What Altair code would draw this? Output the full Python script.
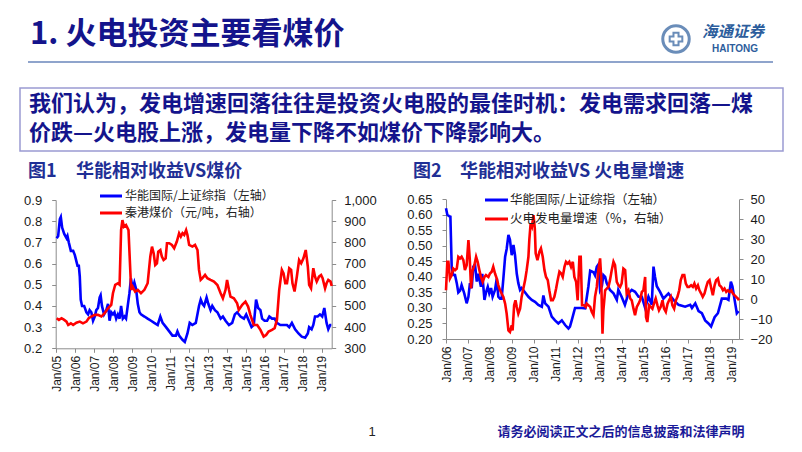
import altair as alt
import pandas as pd

# ---------------- data (decimal year, value) ----------------
c1_blue = [(2005.01,0.72),(2005.09,0.73),(2005.18,0.81),(2005.23,0.82),(2005.30,0.77),(2005.41,0.74),
    (2005.53,0.72),(2005.58,0.73),(2005.65,0.70),(2005.76,0.66),(2005.88,0.66),(2005.97,0.64),
    (2006.11,0.59),(2006.18,0.59),(2006.23,0.54),(2006.28,0.43),(2006.35,0.40),(2006.46,0.40),
    (2006.58,0.37),(2006.67,0.36),(2006.75,0.38),(2006.84,0.37),(2006.93,0.33),(2007.02,0.35),
    (2007.10,0.38),(2007.19,0.39),(2007.28,0.44),(2007.33,0.45),(2007.40,0.40),(2007.51,0.36),
    (2007.63,0.38),(2007.72,0.41),(2007.80,0.33),(2007.89,0.37),(2007.98,0.36),(2008.06,0.37),
    (2008.15,0.34),(2008.24,0.36),(2008.33,0.34),(2008.41,0.40),(2008.50,0.34),(2008.59,0.35),
    (2008.67,0.34),(2008.76,0.40),(2008.85,0.46),(2008.93,0.53),(2009.02,0.48),(2009.11,0.51),
    (2009.20,0.48),(2009.29,0.41),(2009.38,0.37),(2009.46,0.36),(2009.64,0.35),(2009.81,0.34),
    (2009.99,0.33),(2010.16,0.32),(2010.34,0.31),(2010.48,0.35),(2010.60,0.32),(2010.78,0.30),
    (2010.95,0.28),(2011.12,0.26),(2011.30,0.26),(2011.38,0.28),(2011.47,0.26),(2011.65,0.24),
    (2011.77,0.23),(2011.91,0.27),(2012.03,0.32),(2012.17,0.31),(2012.35,0.32),(2012.52,0.40),
    (2012.61,0.43),(2012.70,0.41),(2012.79,0.40),(2012.92,0.44),(2013.01,0.41),(2013.13,0.38),
    (2013.22,0.40),(2013.36,0.38),(2013.49,0.37),(2013.66,0.34),(2013.78,0.35),(2013.92,0.33),
    (2014.10,0.31),(2014.27,0.32),(2014.41,0.36),(2014.53,0.37),(2014.71,0.35),(2014.89,0.34),
    (2015.01,0.36),(2015.15,0.33),(2015.29,0.30),(2015.41,0.31),(2015.53,0.43),(2015.64,0.39),
    (2015.76,0.38),(2015.85,0.34),(2015.98,0.33),(2016.11,0.33),(2016.23,0.35),(2016.37,0.34),
    (2016.51,0.34),(2016.63,0.32),(2016.81,0.31),(2016.98,0.31),(2017.16,0.31),(2017.28,0.30),
    (2017.42,0.32),(2017.59,0.29),(2017.77,0.27),(2017.94,0.255),(2018.12,0.25),(2018.26,0.27),
    (2018.33,0.30),(2018.46,0.29),(2018.55,0.31),(2018.64,0.35),(2018.78,0.35),(2018.90,0.36),
    (2019.02,0.35),(2019.13,0.39),(2019.25,0.32),(2019.34,0.29),(2019.44,0.31),(2019.50,0.31)]

c1_red = [(2005.01,442),(2005.13,434),(2005.27,442),(2005.41,434),(2005.53,426),(2005.62,410),
    (2005.76,418),(2005.88,410),(2006.05,421),(2006.23,426),(2006.40,418),(2006.58,426),
    (2006.70,442),(2006.84,450),(2007.02,458),(2007.19,458),(2007.37,450),(2007.54,466),
    (2007.72,489),(2007.89,505),(2007.98,560),(2008.10,600),(2008.24,607),(2008.33,600),
    (2008.41,858),(2008.48,905),(2008.56,874),(2008.67,882),(2008.80,858),(2008.87,717),
    (2008.94,576),(2009.02,591),(2009.15,568),(2009.29,576),(2009.46,560),(2009.64,576),
    (2009.81,607),(2009.95,733),(2010.04,780),(2010.13,748),(2010.21,693),(2010.30,701),
    (2010.37,756),(2010.48,764),(2010.56,733),(2010.65,717),(2010.76,725),(2010.83,796),
    (2010.95,796),(2011.09,788),(2011.21,772),(2011.35,804),(2011.47,843),(2011.56,827),
    (2011.65,843),(2011.74,835),(2011.84,858),(2011.91,835),(2012.00,788),(2012.17,780),
    (2012.31,788),(2012.44,764),(2012.52,670),(2012.61,623),(2012.70,631),(2012.84,646),
    (2012.96,631),(2013.13,623),(2013.31,615),(2013.49,599),(2013.66,560),(2013.78,536),
    (2013.92,576),(2014.00,623),(2014.10,576),(2014.18,544),(2014.36,536),(2014.53,513),
    (2014.62,481),(2014.80,505),(2014.97,520),(2015.11,497),(2015.23,458),(2015.41,410),
    (2015.59,410),(2015.76,387),(2015.93,355),(2016.06,363),(2016.19,379),(2016.37,387),
    (2016.51,395),(2016.63,434),(2016.75,575),(2016.89,670),(2016.98,654),(2017.07,607),
    (2017.16,607),(2017.28,678),(2017.38,670),(2017.45,607),(2017.56,568),(2017.68,638),
    (2017.80,717),(2017.91,701),(2018.03,725),(2018.15,764),(2018.26,686),(2018.33,599),
    (2018.43,583),(2018.55,678),(2018.64,638),(2018.73,615),(2018.85,638),(2018.96,646),
    (2019.04,631),(2019.17,583),(2019.25,607),(2019.34,623),(2019.46,615),(2019.52,594)]

c2_blue = [(2006.00,0.621),(2006.06,0.60),(2006.14,0.596),(2006.20,0.594),(2006.26,0.43),
    (2006.33,0.406),(2006.41,0.406),(2006.49,0.38),(2006.56,0.35),(2006.64,0.356),(2006.71,0.374),
    (2006.83,0.347),(2006.94,0.315),(2007.02,0.336),(2007.09,0.38),(2007.17,0.364),(2007.24,0.433),
    (2007.32,0.44),(2007.40,0.385),(2007.47,0.41),(2007.59,0.368),(2007.65,0.41),(2007.75,0.326),
    (2007.82,0.35),(2007.90,0.368),(2007.97,0.347),(2008.05,0.364),(2008.12,0.336),(2008.23,0.358),
    (2008.31,0.395),(2008.38,0.336),(2008.46,0.33),(2008.53,0.33),(2008.61,0.395),(2008.69,0.465),
    (2008.76,0.49),(2008.84,0.535),(2008.91,0.52),(2008.99,0.47),(2009.07,0.503),(2009.14,0.47),
    (2009.22,0.41),(2009.29,0.38),(2009.37,0.358),(2009.44,0.364),(2009.60,0.35),(2009.75,0.336),
    (2009.90,0.326),(2010.05,0.32),(2010.20,0.31),(2010.36,0.304),(2010.43,0.34),(2010.51,0.315),
    (2010.66,0.304),(2010.81,0.272),(2010.96,0.26),(2011.11,0.25),(2011.27,0.26),(2011.42,0.245),
    (2011.57,0.234),(2011.64,0.24),(2011.72,0.26),(2011.87,0.30),(2012.02,0.30),(2012.18,0.30),
    (2012.33,0.299),(2012.48,0.37),(2012.56,0.42),(2012.71,0.415),(2012.78,0.405),(2012.86,0.433),
    (2012.93,0.44),(2013.01,0.358),(2013.09,0.37),(2013.16,0.406),(2013.24,0.40),(2013.31,0.38),
    (2013.46,0.358),(2013.62,0.347),(2013.77,0.326),(2013.84,0.358),(2013.99,0.336),(2014.14,0.31),
    (2014.30,0.347),(2014.45,0.358),(2014.60,0.352),(2014.76,0.336),(2014.91,0.336),(2015.06,0.30),
    (2015.21,0.336),(2015.36,0.31),(2015.44,0.433),(2015.51,0.40),(2015.59,0.37),(2015.74,0.352),
    (2015.89,0.33),(2016.12,0.347),(2016.35,0.326),(2016.58,0.31),(2016.88,0.304),(2017.11,0.31),
    (2017.19,0.30),(2017.34,0.315),(2017.49,0.29),(2017.64,0.283),(2017.79,0.26),(2017.94,0.25),
    (2018.06,0.24),(2018.22,0.27),(2018.37,0.283),(2018.55,0.33),(2018.75,0.33),(2018.85,0.326),
    (2018.96,0.385),(2019.03,0.37),(2019.13,0.326),(2019.23,0.283),(2019.31,0.29)]

c2_red = [(2006.00,4.4),(2006.06,18.7),(2006.11,18.7),(2006.18,10.3),(2006.26,12.0),(2006.33,15.3),
    (2006.41,14.5),(2006.49,15.3),(2006.56,21.2),(2006.64,20.4),(2006.71,21.2),(2006.79,19.5),
    (2006.86,14.5),(2006.94,17.0),(2007.02,29.6),(2007.08,20.4),(2007.14,5.3),(2007.20,13.7),
    (2007.29,17.0),(2007.37,21.2),(2007.44,18.7),(2007.52,14.5),(2007.59,11.1),(2007.67,8.6),
    (2007.75,11.1),(2007.82,12.0),(2007.93,11.1),(2008.00,12.8),(2008.08,13.7),(2008.15,16.2),
    (2008.23,12.8),(2008.31,10.3),(2008.38,7.0),(2008.46,4.4),(2008.53,2.8),(2008.61,1.1),
    (2008.69,-2.3),(2008.76,-7.3),(2008.84,-15.7),(2008.91,-16.5),(2008.99,-13.2),(2009.03,-15.7),
    (2009.10,-3.1),(2009.16,-0.6),(2009.22,-3.9),(2009.29,-7.3),(2009.37,-4.8),(2009.44,1.1),
    (2009.52,5.3),(2009.60,9.5),(2009.67,14.5),(2009.75,21.2),(2009.79,29.6),(2009.85,37.9),
    (2009.91,36.3),(2009.98,42.1),(2010.04,35.4),(2010.08,22.9),(2010.16,19.5),(2010.25,23.7),
    (2010.32,25.4),(2010.40,21.2),(2010.48,14.5),(2010.55,11.1),(2010.63,9.5),(2010.70,4.4),
    (2010.78,-0.6),(2010.86,-0.6),(2010.93,1.1),(2011.01,5.3),(2011.08,9.5),(2011.16,13.7),
    (2011.24,12.8),(2011.31,11.1),(2011.39,16.2),(2011.46,18.7),(2011.54,17.8),(2011.61,18.7),
    (2011.69,16.2),(2011.77,18.7),(2011.84,11.1),(2011.92,8.6),(2011.99,-0.6),(2012.07,21.2),
    (2012.13,21.2),(2012.19,-3.1),(2012.27,-3.1),(2012.36,-3.9),(2012.40,-2.3),(2012.56,-3.9),
    (2012.63,-6.4),(2012.71,-8.1),(2012.78,1.1),(2012.86,6.1),(2012.93,14.5),(2013.01,20.4),
    (2013.06,11.0),(2013.12,-17.3),(2013.16,-5.6),(2013.24,4.4),(2013.39,6.1),(2013.46,9.5),
    (2013.54,14.5),(2013.62,18.7),(2013.69,17.0),(2013.77,8.6),(2013.84,7.0),(2013.92,6.1),
    (2013.99,7.8),(2014.07,15.3),(2014.15,14.5),(2014.22,2.8),(2014.30,4.4),(2014.38,0.3),
    (2014.45,-0.6),(2014.53,-4.8),(2014.60,-8.1),(2014.68,-3.9),(2014.76,-2.3),(2014.83,-0.6),
    (2014.91,3.6),(2014.98,4.4),(2015.06,11.1),(2015.10,-9.0),(2015.16,-11.5),(2015.24,-3.1),
    (2015.31,-3.9),(2015.39,-4.8),(2015.46,-2.3),(2015.54,0.3),(2015.62,-3.1),(2015.69,-5.6),
    (2015.77,-3.9),(2015.85,-0.6),(2015.92,-4.8),(2016.00,-6.4),(2016.08,-2.3),(2016.15,-0.6),
    (2016.23,1.1),(2016.30,-3.1),(2016.38,-4.8),(2016.46,-0.6),(2016.53,1.1),(2016.61,4.4),
    (2016.68,9.5),(2016.76,12.0),(2016.84,12.0),(2016.91,7.8),(2016.99,6.1),(2017.06,6.1),
    (2017.15,6.9),(2017.23,6.1),(2017.30,7.8),(2017.38,5.3),(2017.46,6.9),(2017.53,4.4),
    (2017.61,2.8),(2017.68,1.1),(2017.76,2.8),(2017.84,6.1),(2017.91,8.6),(2017.99,9.5),
    (2018.07,5.3),(2018.14,1.9),(2018.22,6.9),(2018.29,9.5),(2018.37,10.3),(2018.44,6.9),
    (2018.52,6.1),(2018.60,4.4),(2018.67,5.3),(2018.75,3.6),(2018.83,4.4),(2018.90,3.6),
    (2018.98,4.4),(2019.05,2.8),(2019.13,1.9),(2019.20,1.1),(2019.28,0.3),(2019.33,-0.6)]

years1 = list(range(2005, 2020))
years2 = list(range(2006, 2020))
c1_left_ticks = [0.2, 0.3, 0.4, 0.5, 0.6, 0.7, 0.8, 0.9]
c1_right_ticks = [300, 400, 500, 600, 700, 800, 900, 1000]
c2_left_ticks = [0.20, 0.25, 0.30, 0.35, 0.40, 0.45, 0.50, 0.55, 0.60, 0.65]
c2_right_ticks = [-20, -10, 0, 10, 20, 30, 40, 50]

title_text = "1. 火电投资主要看煤价"
box_line1 = "我们认为，发电增速回落往往是投资火电股的最佳时机：发电需求回落—煤"
box_line2 = "价跌—火电股上涨，发电量下降不如煤价下降影响大。"
c1_title = ("图1", "华能相对收益VS煤价")
c2_title = ("图2", "华能相对收益VS 火电量增速")
c1_legend = ["华能国际/上证综指（左轴）", "秦港煤价（元/吨，右轴）"]
c2_legend = ["华能国际/上证综指（左轴）", "火电发电量增速（%，右轴）"]
footer_text = "请务必阅读正文之后的信息披露和法律声明"

# ---------------- styles ----------------
CJK = "Noto Sans CJK SC"
LAT = "Liberation Sans"
BLUE = "#0000ff"
RED = "#ff0000"
NAVY = "#14148c"
AXC = "#8c8c8c"
LOGO = "#2c5d9c"
W, H = 786, 436


def frame(pairs):
    return pd.DataFrame(pairs, columns=["t", "v"])


def one():
    return alt.Data(values=[{}])


def text(s, x, y, size, color, weight="normal", font=CJK, align="left", italic=False):
    kw = dict(text=s, align=align, baseline="middle", fontSize=size, font=font,
              fontWeight=weight, color=color)
    if italic:
        kw["fontStyle"] = "italic"
    return alt.Chart(one()).mark_text(**kw).encode(x=alt.value(x), y=alt.value(y))


def hline(x1, x2, y, color, w):
    return alt.Chart(one()).mark_rule(color=color, strokeWidth=w).encode(
        x=alt.value(x1), x2=alt.value(x2), y=alt.value(y))


def yaxis(vals, fmt, orient, offset, pad):
    return alt.Axis(values=vals, format=fmt, orient=orient, offset=offset, grid=False,
                    title=None, labelFont=LAT, labelFontSize=13, labelColor="#1a1a1a",
                    labelPadding=pad, tickSize=4, tickColor=AXC, domainColor=AXC,
                    labelOverlap=False)


def xaxis(vals, offset):
    return alt.Axis(values=vals, orient="bottom", offset=offset, grid=False, title=None,
                    labelExpr="'Jan/' + substring(toString(datum.value), 2)",
                    labelAngle=270, labelAlign="right", labelBaseline="middle",
                    labelFont=LAT, labelFontSize=12, labelColor="#1a1a1a", labelPadding=3,
                    tickSize=4, tickColor=AXC, domainColor=AXC, labelFlush=False,
                    labelOverlap=False)


def series(pairs, xdom, xrng, ydom, yrng, color, xax, yax):
    return alt.Chart(frame(pairs)).mark_line(color=color, strokeWidth=2.6).encode(
        x=alt.X("t:Q", scale=alt.Scale(domain=xdom, range=xrng, nice=False, zero=False), axis=xax),
        y=alt.Y("v:Q", scale=alt.Scale(domain=ydom, range=yrng, nice=False, zero=False), axis=yax),
    )


# plot geometry (pixels inside the chart)
c1x = [47.7, 323.7]
c1y = [340.3, 192]
c2x = [438, 731]
c2y = [331, 191.3]
c1xdom = [2004.96, 2019.52]
c2xdom = [2006.0, 2019.33]

layers = []
# box
layers.append(alt.Chart(one()).mark_rect(fill="white", stroke="#9a9ad2", strokeWidth=1.5).encode(
    x=alt.value(12), x2=alt.value(775), y=alt.value(80), y2=alt.value(143)))
layers.append(text(title_text, 22, 27, 31, NAVY, weight="bold"))
layers.append(hline(20, 765, 54, "#6a86bb", 1.5))
# logo
layers.append(alt.Chart(one()).mark_point(shape="circle", size=700, filled=False, strokeWidth=3,
                                          color=LOGO).encode(x=alt.value(668), y=alt.value(31)))
layers.append(alt.Chart(one()).mark_point(shape="cross", size=160, filled=False, strokeWidth=2,
                                          color=LOGO).encode(x=alt.value(668), y=alt.value(31)))
layers.append(text("海通证券", 694, 24, 15.5, LOGO, weight="bold", italic=True))
layers.append(text("HAITONG", 727, 41, 10, LOGO, weight="bold", font=LAT, align="center"))

layers.append(text(box_line1, 21, 96, 22, NAVY, weight="bold"))
layers.append(text(box_line2, 21, 125, 22, NAVY, weight="bold"))

layers.append(text(c1_title[0], 20, 164, 18, "#1f2f95", weight="bold"))
layers.append(text(c1_title[1], 68, 164, 18, "#1f2f95", weight="bold"))
layers.append(text(c2_title[0], 405, 164, 18, "#1f2f95", weight="bold"))
layers.append(text(c2_title[1], 452, 164, 18, "#1f2f95", weight="bold"))

# chart 1
layers.append(series(c1_blue, c1xdom, c1x, [0.2, 0.9], c1y, BLUE,
                     xaxis(years1, 340.3 - H), yaxis(c1_left_ticks, ".1f", "left", -47.7, 10)))
layers.append(series(c1_red, c1xdom, c1x, [300, 1000], c1y, RED,
                     None, yaxis(c1_right_ticks, ",d", "right", 323.7 - W, 8)))
# chart 2
layers.append(series(c2_blue, c2xdom, c2x, [0.20, 0.65], c2y, BLUE,
                     xaxis(years2, 331 - H), yaxis(c2_left_ticks, ".2f", "left", -438, 10)))
layers.append(series(c2_red, c2xdom, c2x, [-20, 50], c2y, RED,
                     None, yaxis(c2_right_ticks, "d", "right", 731 - W, 7)))

# legends
layers.append(hline(92, 114, 188, BLUE, 3))
layers.append(hline(92, 114, 205, RED, 3))
layers.append(text(c1_legend[0], 117, 188, 12, "#222222"))
layers.append(text(c1_legend[1], 117, 205, 12, "#222222"))
layers.append(hline(477, 500, 192, BLUE, 3))
layers.append(hline(477, 500, 211, RED, 3))
layers.append(text(c2_legend[0], 502, 192, 12.5, "#222222"))
layers.append(text(c2_legend[1], 502, 211, 12.5, "#222222"))

# footer
layers.append(text("1", 364, 424, 13, "#222222", font=LAT, align="center"))
layers.append(text(footer_text, 613, 424, 13, "#1a1a99", weight="bold", align="center"))

chart = (
    alt.layer(*layers)
    .resolve_scale(x="independent", y="independent")
    .resolve_axis(x="independent", y="independent")
    .properties(width=W, height=H, autosize=alt.AutoSizeParams(type="none"), padding=0,
                background="white")
    .configure_view(stroke=None)
)

chart.save("out.html", embed_options={"renderer": "svg", "actions": False})
